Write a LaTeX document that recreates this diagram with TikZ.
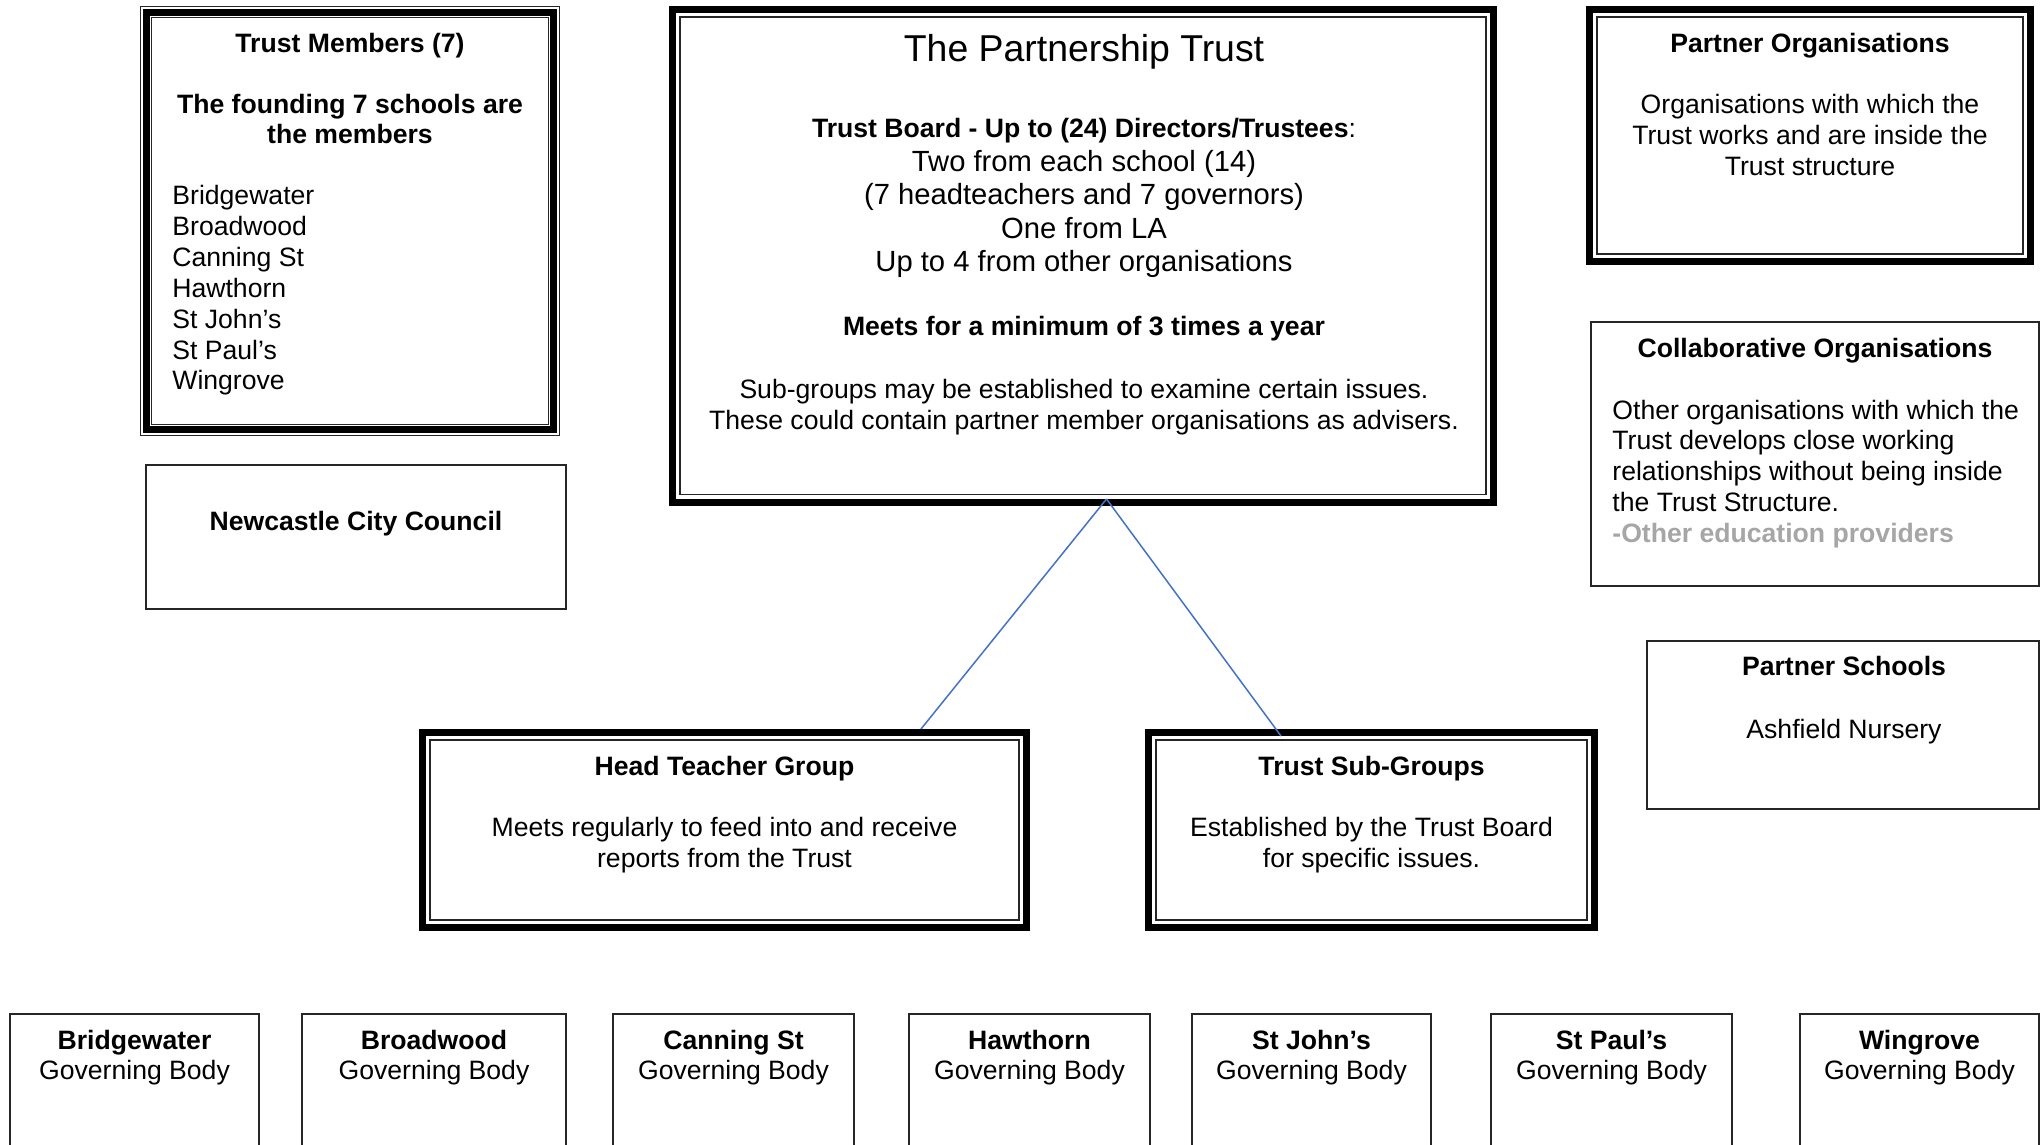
\documentclass[tikz,border=0pt]{standalone}
\usepackage{fontspec}
\setmainfont{Liberation Sans}
\usetikzlibrary{calc}
\definecolor{conn}{HTML}{4472C4}
\definecolor{graytxt}{HTML}{A6A6A6}
\definecolor{edge}{HTML}{262626}
\begin{document}
\begin{tikzpicture}[x=0.5pt,y=-0.5pt,
  thickline/.style={draw=black, line width=3.5pt, inner sep=0pt, outer sep=0pt, rectangle},
  tmline/.style={draw=black, line width=3.25pt, inner sep=0pt, outer sep=0pt, rectangle},
  hairline/.style={draw=edge, line width=0.75pt},
  thinbox/.style={draw=edge, line width=0.65pt, inner sep=0pt, outer sep=0pt, rectangle},
  txt/.style={inner sep=0pt, anchor=base, font=\fontsize{13.3}{15.3}\selectfont},
  btxt/.style={inner sep=0pt, anchor=base, font=\fontsize{13.3}{15.3}\selectfont\bfseries},
  ltxt/.style={inner sep=0pt, anchor=base west, font=\fontsize{13.3}{15.3}\selectfont},
  mtxt/.style={inner sep=0pt, anchor=base, font=\fontsize{14.6}{16.8}\selectfont},
  conline/.style={draw=conn, line width=0.75pt}]
\useasboundingbox (0,0) rectangle (2040,1145);
\clip (0,0) rectangle (2040,1145);
\fill[white] (0,0) rectangle (2040,1145);

% ---------- Trust Members ----------
\node[tmline, minimum width=203.7pt, minimum height=208.7pt] (TM) at (350,221) {};
\draw[hairline, line width=0.65pt] ($(TM.north west)+(-2.8pt,2.8pt)$) rectangle ($(TM.south east)+(2.8pt,-2.8pt)$);
\draw[hairline, line width=0.65pt] ($(TM.north west)+(2.7pt,-2.7pt)$) rectangle ($(TM.south east)+(-2.7pt,2.7pt)$);
\node[btxt] (tm1) at (350,52.5) {Trust Members (7)};
\node[btxt] (tm2) at (350,113.5) {The founding 7 schools are};
\node[btxt] (tm3) at (350,143.5) {the members};
\node[ltxt] (tmA) at (172,205) {Bridgewater};
\node[ltxt] (tmB) at (172,235.8) {Broadwood};
\node[ltxt] (tmC) at (172,266.6) {Canning St};
\node[ltxt] (tmD) at (172,297.4) {Hawthorn};
\node[ltxt] (tmE) at (172,328.2) {St John’s};
\node[ltxt] (tmF) at (172,359) {St Paul’s};
\node[ltxt] (tmG) at (172,389.8) {Wingrove};

% ---------- Newcastle City Council ----------
\node[thinbox, minimum width=210pt, minimum height=72pt] (NCC) at (356,537) {};
\node[btxt] (ncct) at (356,530) {Newcastle City Council};

% ---------- The Partnership Trust ----------
\node[thickline, minimum width=410.5pt, minimum height=246.25pt] (PT) at (1083,255.75) {};
\draw[hairline] ($(PT.north west)+(3.75pt,-3.75pt)$) rectangle ($(PT.south east)+(-3.75pt,3.75pt)$);
\node[inner sep=0pt, anchor=base, font=\fontsize{18.7}{21.5}\selectfont] (pt0) at (1084,62) {The Partnership Trust};
\node[txt] (pt1) at (1084,137.5) {\textbf{Trust Board - Up to (24) Directors/Trustees}:};
\node[mtxt] (pt2) at (1084,171) {Two from each school (14)};
\node[mtxt] (pt3) at (1084,204.6) {(7 headteachers and 7 governors)};
\node[mtxt] (pt4) at (1084,238.2) {One from LA};
\node[mtxt] (pt5) at (1084,271.8) {Up to 4 from other organisations};
\node[btxt] (pt6) at (1084,335.5) {Meets for a minimum of 3 times a year};
\node[txt] (pt7) at (1084,398.8) {Sub-groups may be established to examine certain issues.};
\node[txt] (pt8) at (1084,429.2) {These could contain partner member organisations as advisers.};

% ---------- Partner Organisations ----------
\node[thickline, minimum width=220.5pt, minimum height=126pt] (PO) at (1810,135.5) {};
\draw[hairline] ($(PO.north west)+(3.75pt,-3.75pt)$) rectangle ($(PO.south east)+(-3.75pt,3.75pt)$);
\node[btxt] (po0) at (1810,52.5) {Partner Organisations};
\node[txt] (po1) at (1810,113.5) {Organisations with which the};
\node[txt] (po2) at (1810,144.3) {Trust works and are inside the};
\node[txt] (po3) at (1810,175.1) {Trust structure};

% ---------- Collaborative Organisations ----------
\node[thinbox, minimum width=224pt, minimum height=132pt] (CO) at (1815,454) {};
\node[btxt] (co0) at (1815,357.7) {Collaborative Organisations};
\node[ltxt] (co1) at (1612,419) {Other organisations with which the};
\node[ltxt] (co2) at (1612,449.8) {Trust develops close working};
\node[ltxt] (co3) at (1612,480.6) {relationships without being inside};
\node[ltxt] (co4) at (1612,511.4) {the Trust Structure.};
\node[ltxt, text=graytxt, font=\fontsize{13.3}{15.3}\selectfont\bfseries] (co5) at (1612,542.2) {-Other education providers};

% ---------- Partner Schools ----------
\node[thinbox, minimum width=196pt, minimum height=84pt] (PS) at (1843,725) {};
\node[btxt] (ps0) at (1844,675.5) {Partner Schools};
\node[txt] (ps1) at (1844,738) {Ashfield Nursery};

% ---------- Head Teacher Group ----------
\node[thickline, minimum width=302pt, minimum height=97.5pt] (HT) at (724.5,830) {};
\draw[hairline] ($(HT.north west)+(3.75pt,-3.75pt)$) rectangle ($(HT.south east)+(-3.75pt,3.75pt)$);
\node[btxt] (ht0) at (724.5,775.5) {Head Teacher Group};
\node[txt] (ht1) at (724.5,836.5) {Meets regularly to feed into and receive};
\node[txt] (ht2) at (724.5,867.3) {reports from the Trust};

% ---------- Trust Sub-Groups ----------
\node[thickline, minimum width=223pt, minimum height=97.5pt] (SG) at (1371.5,830) {};
\draw[hairline] ($(SG.north west)+(3.75pt,-3.75pt)$) rectangle ($(SG.south east)+(-3.75pt,3.75pt)$);
\node[btxt] (sg0) at (1371.5,775.5) {Trust Sub-Groups};
\node[txt] (sg1) at (1371.5,836.5) {Established by the Trust Board};
\node[txt] (sg2) at (1371.5,867.3) {for specific issues.};

% ---------- Connectors ----------
\coordinate (apex) at (1106.5,499);
\coordinate (htend) at (921,729);
\coordinate (sgend) at (1281,736);
\draw[conline] (apex) -- (htend);
\draw[conline] (apex) -- (sgend);

% ---------- Governing bodies ----------
\node[thinbox, minimum width=124.5pt, minimum height=83pt] (gb1) at (134.5,1097) {};
\node[thinbox, minimum width=132pt, minimum height=83pt] (gb2) at (434,1097) {};
\node[thinbox, minimum width=120.5pt, minimum height=83pt] (gb3) at (733.5,1097) {};
\node[thinbox, minimum width=120.5pt, minimum height=83pt] (gb4) at (1029.5,1097) {};
\node[thinbox, minimum width=119.5pt, minimum height=83pt] (gb5) at (1311.5,1097) {};
\node[thinbox, minimum width=120.5pt, minimum height=83pt] (gb6) at (1611.5,1097) {};
\node[thinbox, minimum width=119.5pt, minimum height=83pt] (gb7) at (1919.5,1097) {};
\node[btxt] (gb1a) at (134.5,1049) {Bridgewater};
\node[txt]  (gb1b) at (134.5,1079.5) {Governing Body};
\node[btxt] (gb2a) at (434,1049) {Broadwood};
\node[txt]  (gb2b) at (434,1079.5) {Governing Body};
\node[btxt] (gb3a) at (733.5,1049) {Canning St};
\node[txt]  (gb3b) at (733.5,1079.5) {Governing Body};
\node[btxt] (gb4a) at (1029.5,1049) {Hawthorn};
\node[txt]  (gb4b) at (1029.5,1079.5) {Governing Body};
\node[btxt] (gb5a) at (1311.5,1049) {St John’s};
\node[txt]  (gb5b) at (1311.5,1079.5) {Governing Body};
\node[btxt] (gb6a) at (1611.5,1049) {St Paul’s};
\node[txt]  (gb6b) at (1611.5,1079.5) {Governing Body};
\node[btxt] (gb7a) at (1919.5,1049) {Wingrove};
\node[txt]  (gb7b) at (1919.5,1079.5) {Governing Body};
\end{tikzpicture}
\end{document}
